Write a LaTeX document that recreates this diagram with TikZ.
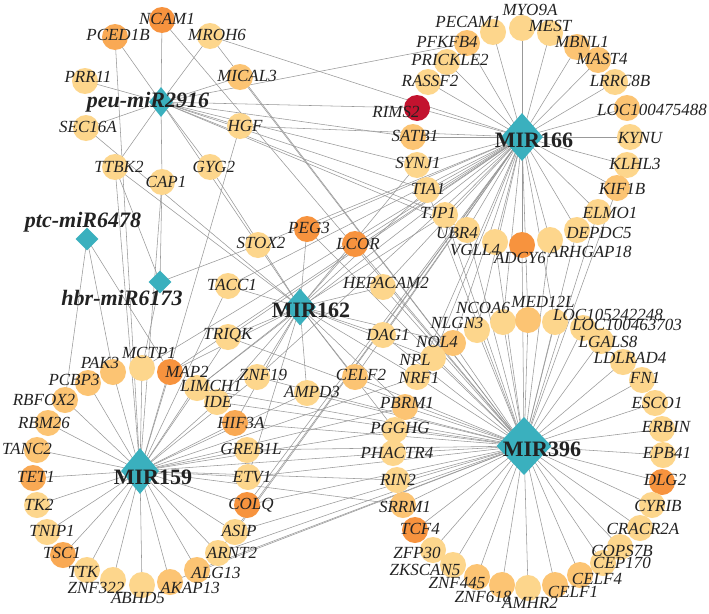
\documentclass[tikz,border=0pt]{standalone}
\usepackage{fontspec}
\setmainfont{Liberation Serif}
\usetikzlibrary{shapes.geometric}
\pgfdeclarelayer{bg}
\pgfdeclarelayer{fg}
\pgfsetlayers{bg,main,fg}
\definecolor{lt}{HTML}{FDD68C}
\definecolor{md}{HTML}{FCC473}
\definecolor{or}{HTML}{F9A954}
\definecolor{dk}{HTML}{F7933E}
\definecolor{red}{HTML}{C3132F}
\definecolor{mirfill}{HTML}{3AB0BE}
\definecolor{edgegray}{HTML}{999999}
\definecolor{txt}{HTML}{222222}
\tikzset{
  gene/.style={circle, minimum size=26pt, inner sep=0pt, draw=none},
  hub/.style={diamond, fill=mirfill, inner sep=0pt, draw=none},
  glabel/.style={font=\fontsize{17}{17}\selectfont\itshape, text=txt, inner sep=0pt},
  hlabel/.style={font=\fontsize{22}{22}\selectfont\bfseries, text=txt, inner sep=0pt},
  plabel/.style={font=\fontsize{22}{22}\selectfont\bfseries\itshape, text=txt, inner sep=0pt},
  link/.style={draw=edgegray, line width=0.55pt},
}
% gene: id, x, y, fill, text, label x, label y
\newcommand\gene[7]{%
  \node[gene, fill=#4] (#1) at (#2,#3) {};
  \begin{pgfonlayer}{fg}\node[glabel] (#1-t) at (#6,#7) {#5};\end{pgfonlayer}}
% miRNA: id, x, y, width, height
\newcommand\mirna[5]{\node[hub, minimum width=#4pt, minimum height=#5pt] (#1) at (#2,#3) {};}
% links from one miRNA to a list of genes
\newcommand\links[2]{%
  \begin{pgfonlayer}{bg}\foreach \g in {#2}{\draw[link] (#1.center) -- (\g.center);}\end{pgfonlayer}}
\begin{document}
\begin{tikzpicture}[x=1pt, y=-1pt]
\begin{pgfonlayer}{bg}
  \fill[white] (0,0) rectangle (709,613);
\end{pgfonlayer}
\useasboundingbox (0,0) rectangle (709,613);

% miRNAs
\mirna{P}{161}{102}{24}{30}
\mirna{PTC}{87}{239}{23}{23}
\mirna{HBR}{160}{282}{23}{23}
\mirna{M162}{300}{307}{32}{37}
\mirna{M166}{522}{137}{42}{48}
\mirna{M396}{524}{446}{55}{58}
\mirna{M159}{140}{471}{38}{46}

% peu-miR2916 targets
\gene{NCAM1}{162}{20}{dk}{NCAM1}{167}{19}
\gene{PCED1B}{115}{37}{or}{PCED1B}{118}{35}
\gene{MROH6}{210}{36}{lt}{MROH6}{217}{35}
\gene{PRR11}{85}{81}{lt}{PRR11}{88}{77}
\gene{MICAL3}{240}{77}{md}{MICAL3}{247}{76}
\gene{SEC16A}{86}{128}{lt}{SEC16A}{88}{127}
\gene{HGF}{240}{126}{lt}{HGF}{245}{126}
\gene{TTBK2}{115}{167}{lt}{TTBK2}{119}{167}
\gene{CAP1}{162}{182}{lt}{CAP1}{166}{182}
\gene{GYG2}{210}{167}{lt}{GYG2}{214}{167}

% MIR166 ring
\gene{MYO9A}{522}{28}{lt}{MYO9A}{530}{10}
\gene{PECAM1}{493}{32}{lt}{PECAM1}{468}{22}
\gene{MEST}{550}{33}{lt}{MEST}{550}{26}
\gene{PFKFB4}{467}{43}{md}{PFKFB4}{447}{42}
\gene{MBNL1}{577}{47}{md}{MBNL1}{582}{42}
\gene{PRICKLE2}{447}{62}{lt}{PRICKLE2}{450}{60}
\gene{MAST4}{598}{60}{md}{MAST4}{602}{59}
\gene{RASSF2}{428}{82}{lt}{RASSF2}{430}{81}
\gene{LRRC8B}{615}{82}{lt}{LRRC8B}{620}{81}
\gene{RIMS2}{417}{108}{red}{RIMS2}{396}{112}
\gene{LOC100475488}{627}{108}{md}{LOC100475488}{652}{110}
\gene{SATB1}{413}{137}{md}{SATB1}{415}{136}
\gene{KYNU}{630}{137}{lt}{KYNU}{640}{138}
\gene{SYNJ1}{417}{165}{lt}{SYNJ1}{418}{163}
\gene{KLHL3}{627}{165}{lt}{KLHL3}{635}{164}
\gene{TIA1}{427}{190}{lt}{TIA1}{428}{189}
\gene{KIF1B}{617}{188}{md}{KIF1B}{622}{189}
\gene{TJP1}{445}{215}{lt}{TJP1}{438}{213}
\gene{ELMO1}{598}{212}{lt}{ELMO1}{610}{213}
\gene{UBR4}{467}{230}{lt}{UBR4}{457}{233}
\gene{DEPDC5}{577}{230}{lt}{DEPDC5}{599}{233}
\gene{VGLL4}{495}{242}{lt}{VGLL4}{475}{250}
\gene{ADCY6}{522}{245}{dk}{ADCY6}{520}{258}
\gene{ARHGAP18}{550}{240}{lt}{ARHGAP18}{590}{252}

% MIR162 ring
\gene{PEG3}{307}{229}{dk}{PEG3}{309}{228}
\gene{STOX2}{258}{245}{lt}{STOX2}{261}{243}
\gene{LCOR}{355}{244}{dk}{LCOR}{358}{244}
\gene{TACC1}{228}{286}{lt}{TACC1}{232}{285}
\gene{HEPACAM2}{383}{287}{lt}{HEPACAM2}{386}{283}
\gene{TRIQK}{228}{337}{lt}{TRIQK}{228}{335}
\gene{DAG1}{383}{335}{lt}{DAG1}{388}{335}
\gene{ZNF19}{257}{377}{lt}{ZNF19}{263}{375}
\gene{AMPD3}{307}{393}{lt}{AMPD3}{312}{392}
\gene{CELF2}{355}{377}{md}{CELF2}{361}{375}

% MIR396 ring
\gene{NCOA6}{503}{322}{lt}{NCOA6}{483}{308}
\gene{MED12L}{528}{320}{md}{MED12L}{543}{302}
\gene{LOC105242248}{555}{322}{lt}{LOC105242248}{608}{315}
\gene{LOC100463703}{583}{328}{lt}{LOC100463703}{627}{325}
\gene{NLGN3}{477}{330}{lt}{NLGN3}{457}{323}
\gene{LGALS8}{601}{341}{lt}{LGALS8}{608}{342}
\gene{NOL4}{453}{343}{md}{NOL4}{437}{342}
\gene{LDLRAD4}{623}{362}{lt}{LDLRAD4}{630}{358}
\gene{NPL}{433}{358}{lt}{NPL}{415}{360}
\gene{FN1}{642}{380}{lt}{FN1}{645}{378}
\gene{NRF1}{417}{377}{lt}{NRF1}{419}{378}
\gene{ESCO1}{655}{403}{lt}{ESCO1}{657}{403}
\gene{PBRM1}{405}{407}{md}{PBRM1}{407}{403}
\gene{ERBIN}{662}{429}{lt}{ERBIN}{666}{427}
\gene{PGGHG}{395}{430}{lt}{PGGHG}{400}{428}
\gene{EPB41}{663}{455}{lt}{EPB41}{667}{453}
\gene{PHACTR4}{393}{453}{lt}{PHACTR4}{397}{453}
\gene{DLG2}{662}{482}{dk}{DLG2}{665}{480}
\gene{RIN2}{397}{480}{lt}{RIN2}{398}{480}
\gene{CYRIB}{652}{505}{lt}{CYRIB}{658}{506}
\gene{SRRM1}{403}{505}{md}{SRRM1}{405}{507}
\gene{CRACR2A}{640}{528}{lt}{CRACR2A}{643}{529}
\gene{TCF4}{415}{530}{dk}{TCF4}{420}{529}
\gene{COPS7B}{620}{547}{lt}{COPS7B}{622}{551}
\gene{ZFP30}{433}{550}{lt}{ZFP30}{417}{553}
\gene{CEP170}{603}{563}{lt}{CEP170}{622}{563}
\gene{ZKSCAN5}{453}{565}{lt}{ZKSCAN5}{425}{570}
\gene{CELF4}{580}{575}{md}{CELF4}{597}{579}
\gene{ZNF445}{477}{577}{md}{ZNF445}{457}{583}
\gene{CELF1}{555}{585}{md}{CELF1}{573}{592}
\gene{ZNF618}{502}{585}{md}{ZNF618}{483}{597}
\gene{AMHR2}{528}{588}{lt}{AMHR2}{530}{603}

% MIR159 ring
\gene{PCBP3}{88}{383}{md}{PCBP3}{74}{380}
\gene{PAK3}{113}{372}{md}{PAK3}{100}{363}
\gene{MCTP1}{142}{368}{lt}{MCTP1}{149}{353}
\gene{MAP2}{170}{372}{dk}{MAP2}{187}{372}
\gene{LIMCH1}{197}{388}{lt}{LIMCH1}{211}{386}
\gene{RBFOX2}{65}{400}{md}{RBFOX2}{44}{400}
\gene{IDE}{217}{402}{lt}{IDE}{218}{402}
\gene{RBM26}{48}{423}{md}{RBM26}{44}{423}
\gene{HIF3A}{235}{423}{or}{HIF3A}{241}{423}
\gene{TANC2}{37}{450}{md}{TANC2}{27}{449}
\gene{GREB1L}{247}{450}{lt}{GREB1L}{251}{449}
\gene{TET1}{33}{478}{or}{TET1}{36}{477}
\gene{ETV1}{248}{477}{lt}{ETV1}{252}{477}
\gene{TK2}{37}{505}{lt}{TK2}{39}{505}
\gene{COLQ}{247}{505}{dk}{COLQ}{251}{505}
\gene{TNIP1}{47}{532}{lt}{TNIP1}{52}{531}
\gene{ASIP}{235}{532}{lt}{ASIP}{239}{531}
\gene{TSC1}{63}{555}{or}{TSC1}{62}{553}
\gene{ARNT2}{218}{553}{lt}{ARNT2}{232}{553}
\gene{TTK}{87}{570}{lt}{TTK}{83}{572}
\gene{ALG13}{197}{570}{md}{ALG13}{216}{573}
\gene{ZNF322}{113}{580}{lt}{ZNF322}{96}{588}
\gene{AKAP13}{170}{582}{md}{AKAP13}{190}{588}
\gene{ABHD5}{142}{585}{lt}{ABHD5}{138}{598}

% miRNA names
\begin{pgfonlayer}{fg}
  \node[plabel] (P-t) at (148,102) {peu-miR2916};
  \node[plabel] (PTC-t) at (83,222) {ptc-miR6478};
  \node[plabel] (HBR-t) at (122,298) {hbr-miR6173};
  \node[hlabel] (M162-t) at (311,310) {MIR162};
  \node[hlabel] (M166-t) at (534,140) {MIR166};
  \node[hlabel] (M396-t) at (542,449) {MIR396};
  \node[hlabel] (M159-t) at (153,477) {MIR159};
\end{pgfonlayer}

% interactions
\links{P}{NCAM1,PCED1B,MROH6,PRR11,MICAL3,SEC16A,HGF,TTBK2,CAP1,GYG2,RIMS2,PFKFB4,SATB1,SYNJ1,TIA1,TJP1,UBR4,STOX2}
\links{PTC}{RBFOX2,PAK3,MAP2}
\links{HBR}{TTBK2,STOX2,MCTP1,CAP1}
\links{M166}{MYO9A,PECAM1,MEST,PFKFB4,MBNL1,PRICKLE2,MAST4,RASSF2,LRRC8B,RIMS2,LOC100475488,SATB1,KYNU,SYNJ1,KLHL3,TIA1,KIF1B,TJP1,ELMO1,UBR4,DEPDC5,VGLL4,ADCY6,ARHGAP18,
  MROH6,HGF,PEG3,LCOR,STOX2,HEPACAM2,DAG1,TACC1,TRIQK,ZNF19,CELF2,MAP2,MCTP1,LIMCH1,ASIP,ARNT2,COLQ,NCOA6,NLGN3,NOL4,NPL,NRF1,MED12L,LOC105242248}
\links{M396}{NCOA6,MED12L,LOC105242248,LOC100463703,NLGN3,LGALS8,NOL4,LDLRAD4,NPL,FN1,NRF1,ESCO1,PBRM1,ERBIN,PGGHG,EPB41,PHACTR4,DLG2,RIN2,CYRIB,SRRM1,CRACR2A,TCF4,COPS7B,ZFP30,CEP170,ZKSCAN5,CELF4,ZNF445,CELF1,ZNF618,AMHR2,
  NCAM1,MROH6,MICAL3,LCOR,PEG3,HEPACAM2,DAG1,CELF2,AMPD3,ZNF19,TRIQK,LIMCH1,IDE,HIF3A,GREB1L,ETV1,COLQ,ASIP,ARNT2,ALG13,AKAP13,UBR4,VGLL4,ADCY6,ARHGAP18,DEPDC5,ELMO1,TJP1,TIA1,KIF1B}
\links{M159}{PCBP3,PAK3,MCTP1,MAP2,LIMCH1,RBFOX2,IDE,RBM26,HIF3A,TANC2,GREB1L,TET1,ETV1,TK2,COLQ,TNIP1,ASIP,TSC1,ARNT2,TTK,ALG13,ZNF322,AKAP13,ABHD5,
  PCED1B,TTBK2,HGF,CAP1,TACC1,TRIQK,ZNF19,AMPD3,PBRM1,PGGHG,PHACTR4,RIN2,SRRM1,NRF1}
\links{M162}{STOX2,PEG3,LCOR,TACC1,HEPACAM2,TRIQK,DAG1,ZNF19,AMPD3,CELF2,
  SEC16A,TTBK2,GYG2,TIA1,TJP1,SYNJ1,NOL4,NPL,NRF1,PBRM1,PGGHG,MAP2,LIMCH1,IDE,HIF3A,ETV1}
\end{tikzpicture}
\end{document}
